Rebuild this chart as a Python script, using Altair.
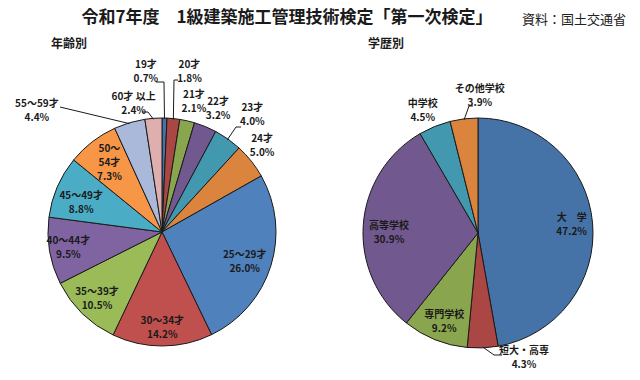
import math
import altair as alt
import pandas as pd

# ---------------- data ----------------
age_labels = ["19才", "20才", "21才", "22才", "23才", "24才", "25～29才", "30～34才",
              "35～39才", "40～44才", "45～49才", "50～54才", "55～59才", "60才以上"]
age_values = [0.7, 1.8, 2.1, 3.2, 4.0, 5.0, 26.0, 14.2, 10.5, 9.5, 8.8, 7.3, 4.4, 2.4]

edu_labels = ["大学", "短大・高専", "専門学校", "高等学校", "中学校", "その他学校"]
edu_values = [47.2, 4.3, 9.2, 30.9, 4.5, 3.9]

title_text = "令和7年度　1級建築施工管理技術検定「第一次検定」"
source_text = "資料：国土交通省"
left_title = "年齢別"
right_title = "学歴別"

# ---------------- styles / layout ----------------
age_colors = ["#4572A7", "#AA4643", "#89A54E", "#71588F", "#4198AF", "#DB843D",
              "#4F81BD", "#C0504D", "#9BBB59", "#8064A2", "#4BACC6", "#F79646",
              "#AAB9DA", "#DFAFAF"]
edu_colors = ["#4572A7", "#AA4643", "#89A54E", "#71588F", "#4198AF", "#DB843D"]

age_display = {"50～54才": "50～\n54才", "60才以上": "60才 以上"}
edu_display = {"大学": "大　学"}

FONT = "Noto Sans CJK JP"
M = 8  # page margin
W, H = 640 - 2 * M, 380 - 2 * M
LH = 14  # label line height

L_CX, L_CY, L_R = 162 - M, 232 - M, 114
R_CX, R_CY, R_R = 478 - M, 233 - M, 115

# label angle offsets (deg, from slice middle) and radii (px)
age_lab_off = [-7, 4, 1, 2.2, 2.3, -2.2, 2.6, 0, 0, 0, -3.3, 0.5, -29.4, -8.2]
age_lab_rad = [161, 162, 134, 135, 148, 132, 88, 96, 93, 95, 86, 87, 174, 131]
edu_lab_off = [0, -17.9, -1.1, -4.1, -2.2, 7.8]
edu_lab_rad = [94, 133, 95, 89, 134, 137]

# leader lines: slice index -> points (page coords) ending at the slice edge
age_leaders = {0: [(156, 82), (164, 82)], 1: [(178, 80), (174, 80)],
               13: [(142, 112), (148, 112)], 12: [(60, 107)],
               4: [(241, 127), (236, 127)]}
edu_leaders = {5: [(473, 106), (469, 106)], 1: [(502, 355), (494, 355)]}


def mids(values):
    tot = sum(values)
    out, c = [], 0.0
    for v in values:
        out.append((c + v / 2) / tot * 360.0)
        c += v
    return out


def polar(cx, cy, ang, r):
    a = math.radians(ang)
    return cx + r * math.sin(a), cy - r * math.cos(a)


def label_df(labels, values, disp, off, rad, cx, cy):
    rows = []
    for i, (lab, v, m) in enumerate(zip(labels, values, mids(values))):
        x, y = polar(cx, cy, m + off[i], rad[i])
        txt = disp.get(lab, lab) + "\n" + f"{v:.1f}%"
        n = txt.count("\n") + 1
        rows.append({"txt": txt, "lx": x, "ly": y - (n - 1) * LH / 2})
    return pd.DataFrame(rows)


def leader_df(values, leaders, cx, cy, r, tag):
    rows = []
    m = mids(values)
    for idx, pts in leaders.items():
        pts = [(px - M, py - M) for px, py in pts]
        pts.append(polar(cx, cy, m[idx], r - 1))
        for k, (x, y) in enumerate(pts):
            rows.append({"g": f"{tag}{idx}", "k": k, "x": x, "y": y})
    return rows


def pie(labels, values, colors, cx, cy, r):
    df = pd.DataFrame({"cat": labels, "val": values, "idx": list(range(len(labels)))})
    return alt.Chart(df).mark_arc(radius=r, stroke="#1a1a1a", strokeWidth=1).encode(
        theta=alt.Theta("val:Q", stack=True),
        color=alt.Color("cat:N", scale=alt.Scale(domain=labels, range=colors), legend=None),
        order=alt.Order("idx:Q"),
        x=alt.value(cx),
        y=alt.value(cy),
    )


def labels_layer(df):
    return alt.Chart(df).mark_text(font=FONT, fontSize=10, fontWeight="bold", color="#1a1a1a",
                                   lineBreak="\n", lineHeight=LH, align="center",
                                   baseline="middle").encode(
        x=alt.X("lx:Q", scale=None), y=alt.Y("ly:Q", scale=None), text="txt:N")


left_pie = pie(age_labels, age_values, age_colors, L_CX, L_CY, L_R)
right_pie = pie(edu_labels, edu_values, edu_colors, R_CX, R_CY, R_R)

left_lab = labels_layer(label_df(age_labels, age_values, age_display, age_lab_off, age_lab_rad, L_CX, L_CY))
right_lab = labels_layer(label_df(edu_labels, edu_values, edu_display, edu_lab_off, edu_lab_rad, R_CX, R_CY))

lead_rows = leader_df(age_values, age_leaders, L_CX, L_CY, L_R, "a") + \
    leader_df(edu_values, edu_leaders, R_CX, R_CY, R_R, "e")
leaders = alt.Chart(pd.DataFrame(lead_rows)).mark_line(color="#1a1a1a", strokeWidth=1).encode(
    x=alt.X("x:Q", scale=None), y=alt.Y("y:Q", scale=None), detail="g:N", order="k:Q")

title_mark = alt.Chart(pd.DataFrame([{"t": title_text, "tx": 287 - M, "ty": 18 - M}])).mark_text(
    font=FONT, fontSize=17, fontWeight="bold", color="#1a1a1a", baseline="middle").encode(
    x=alt.X("tx:Q", scale=None), y=alt.Y("ty:Q", scale=None), text="t:N")

src = alt.Chart(pd.DataFrame([{"t": source_text, "tx": 574 - M, "ty": 20 - M}])).mark_text(
    font=FONT, fontSize=13, color="#222222", baseline="middle").encode(
    x=alt.X("tx:Q", scale=None), y=alt.Y("ty:Q", scale=None), text="t:N")

subs = alt.Chart(pd.DataFrame([{"t": left_title, "tx": 69 - M, "ty": 44 - M},
                               {"t": right_title, "tx": 386 - M, "ty": 44 - M}])).mark_text(
    font=FONT, fontSize=12, fontWeight="bold", color="#1a1a1a", baseline="middle").encode(
    x=alt.X("tx:Q", scale=None), y=alt.Y("ty:Q", scale=None), text="t:N")

chart = alt.layer(left_pie, right_pie, leaders, left_lab, right_lab, title_mark, src, subs).resolve_scale(
    theta="independent", color="independent"
).properties(
    width=W, height=H, padding=0, autosize=alt.AutoSizeParams(type="none"),
    background="white"
).configure_view(stroke=None)

chart.save("out.html", embed_options={"renderer": "svg", "actions": False})
